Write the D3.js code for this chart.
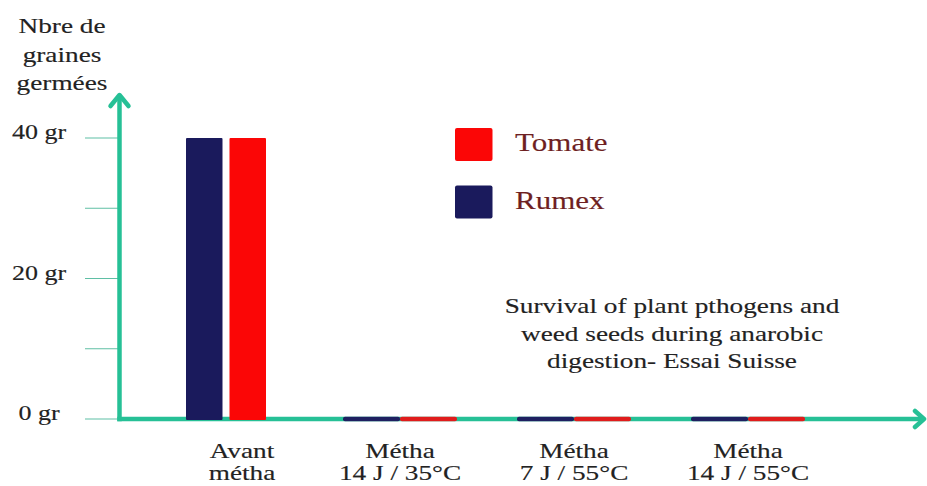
<!DOCTYPE html>
<html><head><meta charset="utf-8">
<script src="https://cdn.jsdelivr.net/npm/d3@7"></script>
<style>html,body{margin:0;padding:0;background:#fff;}svg{display:block;}
svg text{font-family:"Liberation Serif","Tinos","Times New Roman","DejaVu Serif",serif;}</style>
</head><body>
<svg id="c" width="927" height="486"></svg>
<script>
const categories = [["Avant", "métha"], ["Métha", "14 J / 35°C"], ["Métha", "7 J / 55°C"], ["Métha", "14 J / 55°C"]];
const seriesNames = ["Rumex", "Tomate"];
const rumexValues = [40, 0, 0, 0];
const tomateValues = [40, 0, 0, 0];
const tickValues = [0, 10, 20, 30, 40];
const tickLabels = ["0 gr", "", "20 gr", "", "40 gr"];
const legendOrder = ["Tomate", "Rumex"];
const yTitle = ["Nbre de", "graines", "germées"];
const noteLines = ["Survival of plant pthogens and", "weed seeds during anarobic", "digestion- Essai Suisse"];

const colors = {Rumex: "#1a1a5c", Tomate: "#fb0606"};
const stripColors = {Rumex: "#1e2060", Tomate: "#e01c1c"};
const teal = "#26c096";

const svg = d3.select("#c");
// measure the font to get the horizontal stretch of the original image
const probe = svg.append("text").attr("font-size", 22).text(noteLines[0]);
const SX = 335 / probe.node().getComputedTextLength();
probe.remove();

const y = d3.scaleLinear().domain([0, 40]).range([419, 138]);
const x = d3.scaleBand().domain(d3.range(categories.length)).range([139, 835]).padding(0);
const sub = d3.scaleBand().domain(seriesNames).range([-40, 40]).paddingInner(0.161);
const subStrip = d3.scaleBand().domain(seriesNames).range([-57, 57]).padding(0);

function stext(g, tx, ty, str, size, fill, anchor) {
  return g.append("text").attr("transform", `translate(${tx},${ty}) scale(${SX},1)`)
    .attr("text-anchor", anchor || "start")
    .attr("font-size", size).attr("fill", fill)
    .attr("stroke", fill).attr("stroke-width", 0.15).text(str);
}

// y ticks
const yAxisX = 119.5;
svg.append("g").selectAll("line").data(tickValues).join("line")
  .attr("x1", 85).attr("x2", yAxisX).attr("y1", d => y(d)).attr("y2", d => y(d))
  .attr("stroke", "#5fbfa5").attr("stroke-width", 1.2);
tickValues.forEach((v, i) => {
  if (tickLabels[i]) stext(svg, 39, y(v) + 1, tickLabels[i], 21, "#222", "middle");
});

// y title
yTitle.forEach((t, i) => stext(svg, 62, 33 + i * 28.5, t, 22, "#222", "middle"));

// axes
const yTop = y(46.4);
svg.append("line").attr("x1", yAxisX).attr("x2", yAxisX).attr("y1", yTop + 2).attr("y2", y(0) + 2.2)
  .attr("stroke", teal).attr("stroke-width", 4.5);
svg.append("path").attr("d", `M${yAxisX - 9},${yTop + 13}L${yAxisX},${yTop + 2}L${yAxisX + 9},${yTop + 13}`)
  .attr("fill", "none").attr("stroke", teal).attr("stroke-width", 4.5).attr("stroke-linecap", "round").attr("stroke-linejoin", "round");
const xEnd = 924;
svg.append("line").attr("x1", yAxisX - 2.2).attr("x2", xEnd - 1).attr("y1", y(0)).attr("y2", y(0))
  .attr("stroke", teal).attr("stroke-width", 4.5);
svg.append("path").attr("d", `M${xEnd - 9},${y(0) - 8}L${xEnd},${y(0)}L${xEnd - 9},${y(0) + 8}`)
  .attr("fill", "none").attr("stroke", teal).attr("stroke-width", 4.5).attr("stroke-linecap", "round").attr("stroke-linejoin", "round");

// bars
const rows = [];
categories.forEach((c, i) => {
  rows.push({i, s: "Rumex", v: rumexValues[i]});
  rows.push({i, s: "Tomate", v: tomateValues[i]});
});
const center = i => x(i) + x.bandwidth() / 2;
svg.append("g").selectAll("rect").data(rows).join("rect")
  .attr("x", d => d.v > 0 ? center(d.i) + sub(d.s) : center(d.i) + subStrip(d.s))
  .attr("width", d => d.v > 0 ? sub.bandwidth() : subStrip.bandwidth())
  .attr("y", d => d.v > 0 ? y(d.v) : y(0) - 2.3)
  .attr("height", d => d.v > 0 ? y(0) - y(d.v) + 1 : 4.6)
  .attr("rx", d => d.v > 0 ? 1 : 2)
  .attr("fill", d => d.v > 0 ? colors[d.s] : stripColors[d.s]);

// x labels
categories.forEach((c, i) => {
  const cx = center(i) + (i === 0 ? 16 : 0);
  stext(svg, cx, 458, c[0], 22, "#222", "middle");
  stext(svg, cx, 480, c[1], 22, "#222", "middle");
});

// legend
legendOrder.forEach((s, i) => {
  const ly = 128 + i * 57.5;
  svg.append("rect").attr("x", 455).attr("y", ly).attr("width", 37.5).attr("height", 33).attr("rx", 2)
    .attr("fill", colors[s]);
  stext(svg, 515, ly + 23, s, 25, "#6e1f22", "start");
});

// note
noteLines.forEach((t, i) => stext(svg, 672, 313 + i * 27.5, t, 22, "#222", "middle"));
</script>
</body></html>
